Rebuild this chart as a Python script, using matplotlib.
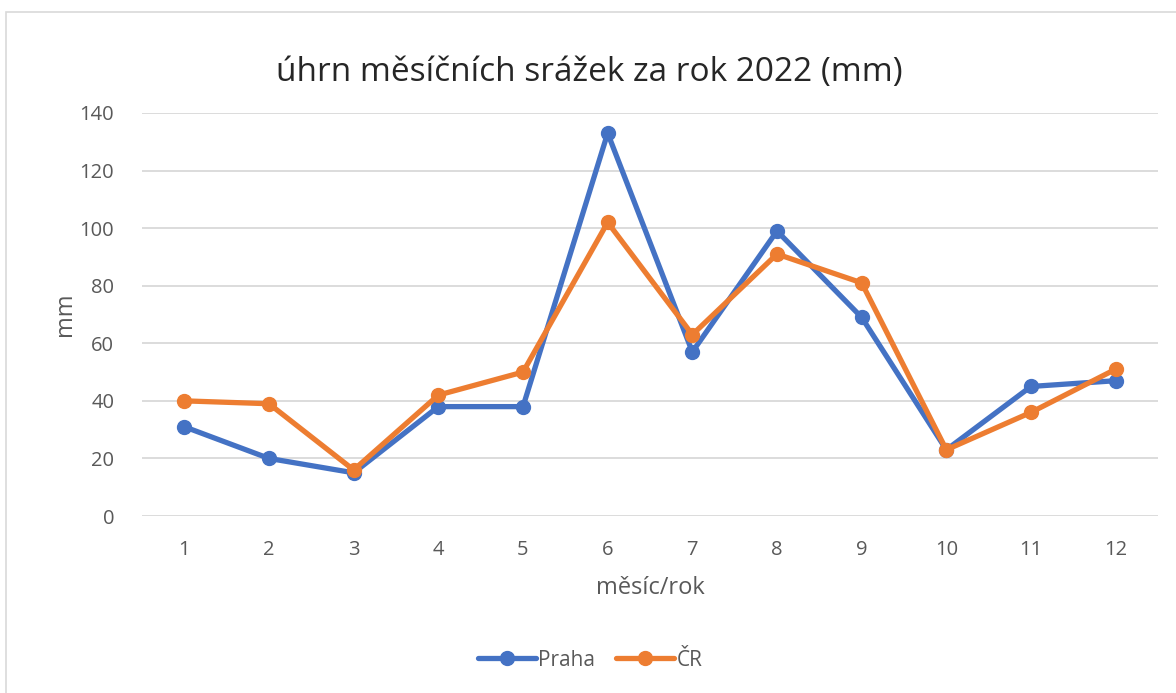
import matplotlib.pyplot as plt
import matplotlib.patches as patches

months = list(range(1, 13))
praha = [31, 20, 15, 38, 38, 133, 57, 99, 69, 23, 45, 47]
cr = [40, 39, 16, 42, 50, 102, 63, 91, 81, 23, 36, 51]
yticks = [0, 20, 40, 60, 80, 100, 120, 140]

plt.rcParams['font.family'] = ['Open Sans', 'DejaVu Sans']
gray = '#595959'

fig = plt.figure(figsize=(11.76, 6.93), dpi=100)
fig.patches.append(patches.Rectangle((6 / 1176, -0.01), 1.2, 1 - 12 / 693 + 0.01,
                                     transform=fig.transFigure, fill=False,
                                     edgecolor='#D9D9D9', linewidth=1.2))
ax = fig.add_axes([142 / 1176, 1 - 516 / 693, (1158 - 142) / 1176, (516 - 113) / 693])

ax.plot(months, praha, color='#4472C4', linewidth=3.8, marker='o', markersize=10,
        label='Praha', solid_capstyle='round', zorder=3)
ax.plot(months, cr, color='#ED7D31', linewidth=3.8, marker='o', markersize=10,
        label='ČR', solid_capstyle='round', zorder=4)

ax.set_xlim(0.5, 12.5)
ax.set_ylim(0, 140)
ax.set_xticks(months)
ax.set_yticks(yticks)
ax.tick_params(length=0, labelsize=14.5, colors=gray, pad=20)
ax.tick_params(axis='x', pad=17)
ax.grid(axis='y', color='#D9D9D9', linewidth=1.3)
ax.set_axisbelow(True)
for s in ax.spines.values():
    s.set_visible(False)

ax.set_ylabel('mm', fontsize=17, color=gray, labelpad=2)
ax.set_xlabel('měsíc/rok', fontsize=17, color=gray, labelpad=12)
fig.text(589 / 1176, 1 - 72 / 693, 'úhrn měsíčních srážek za rok 2022 (mm)',
         ha='center', va='center', fontsize=24, color='#262626')

fig.legend(loc='center', bbox_to_anchor=(590 / 1176, 1 - 660 / 693), ncol=2,
           frameon=False, fontsize=15, labelcolor=gray, handlelength=2.8,
           handletextpad=0.1, columnspacing=1.0)

fig.savefig('out.png', dpi=100)
